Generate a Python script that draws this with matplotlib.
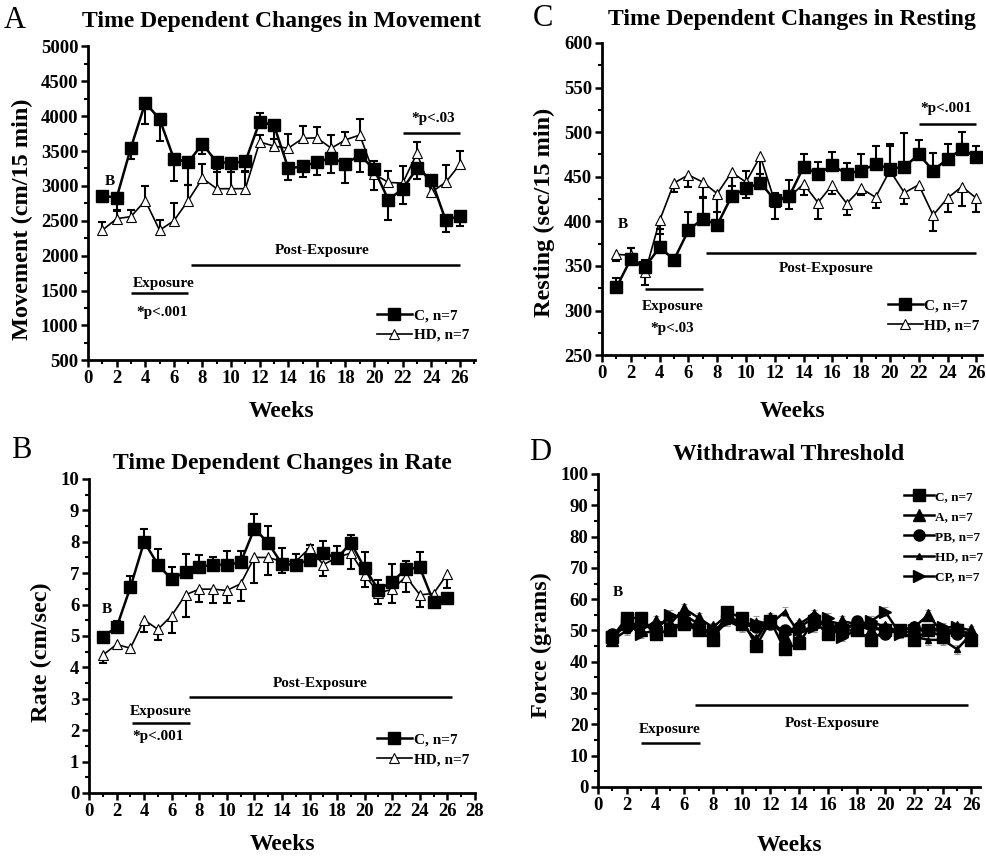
import numpy as np
import matplotlib.pyplot as plt
from matplotlib.ticker import MultipleLocator

plt.rcParams['font.family'] = ['Liberation Serif', 'DejaVu Serif']
plt.rcParams['font.weight'] = 'bold'
plt.rcParams['axes.labelweight'] = 'bold'

weeks = np.arange(1, 27)

# --- A: movement (cm/15 min); err > 0 means bar drawn upward, < 0 downward
move_c = [2860, 2830, 3550, 4190, 3960, 3390, 3340, 3600, 3340, 3330, 3350, 3920, 3870,
          3250, 3280, 3340, 3400, 3320, 3440, 3240, 2800, 2960, 3250, 3090, 2510, 2570]
move_c_err = [-90, -180, -170, -310, -310, -320, -320, -150, -140, -130, -150, 130, -330,
              -170, -150, -190, -210, -280, -240, -300, -290, -220, -150, -230, -170, -150]
move_hd = [2365, 2530, 2560, 2790, 2365, 2500, 2790, 3110, 2960, 2960, 2960, 3630, 3570,
           3540, 3680, 3690, 3540, 3660, 3730, 3170, 3050, 3040, 3470, 2910, 3050, 3310]
move_hd_err = [120, 110, 100, 210, 150, 250, 220, 210, 280, 280, 250, 100, 100,
               210, 180, 150, 190, 110, 230, 180, 170, 240, 160, 100, 250, 190]

# --- B: rate (cm/sec)
rate_c = [4.98, 5.27, 6.55, 8.0, 7.27, 6.8, 7.05, 7.2, 7.27, 7.27, 7.34, 8.42, 7.96,
          7.29, 7.27, 7.43, 7.64, 7.48, 7.96, 7.16, 6.47, 6.73, 7.13, 7.18, 6.08, 6.2]
rate_c_err = [0.1, 0.22, 0.35, 0.42, 0.5, 0.4, 0.55, 0.38, 0.25, 0.45, 0.38, 0.45, 0.55,
              0.5, 0.35, 0.35, 0.38, 0.38, 0.25, 0.5, 0.3, 0.55, 0.25, 0.5, -0.1, 0.1]
rate_hd = [4.39, 4.73, 4.61, 5.51, 5.21, 5.65, 6.31, 6.49, 6.49, 6.45, 6.66, 7.5, 7.5,
           7.37, 7.37, 7.8, 7.27, 7.5, 7.64, 6.95, 6.36, 6.49, 6.89, 6.31, 6.35, 6.98]
rate_hd_err = [-0.25, -0.15, -0.15, -0.4, -0.35, -0.55, -0.7, -0.4, -0.45, -0.4, -0.55, -0.8, -0.55,
               -0.35, -0.2, 0.1, -0.35, -0.1, -0.5, -0.4, -0.35, -0.45, -0.5, -0.4, -0.1, -0.45]

# --- C: resting (sec/15 min)
rest_c = [326, 358, 349, 371, 357, 390, 403, 396, 428, 437, 443, 424, 428,
          461, 453, 463, 453, 457, 464, 459, 461, 475, 457, 470, 481, 472]
rest_c_err = [10, 12, 8, 20, 5, 20, 24, 32, 22, 20, 10, 8, 18,
              15, 14, 15, 12, 19, 20, 28, 38, 16, 20, 17, 19, 13]
rest_hd = [363, 362, 343, 401, 443, 452, 444, 431, 455, 444, 473, 422, 427,
           442, 421, 441, 420, 437, 427, 457, 432, 441, 407, 426, 439, 426]
rest_hd_err = [-7, 8, -14, -15, -10, -13, -18, -20, -15, -18, -20, -19, -13,
               -12, -18, -10, -13, -8, -12, 28, -12, -5, -18, -15, -22, -16]

# --- D: withdrawal threshold (grams)
d_groups = ['C, n=7', 'A, n=7', 'PB, n=7', 'HD, n=7', 'CP, n=7']
force_c = [48, 54, 54, 49, 50, 52, 50, 47, 56, 54, 45, 53, 44,
           46, 53, 49, 50, 50, 47, 50, 50, 47, 50, 48, 50, 47]
force_a = [47, 53, 50, 53, 52, 57, 54, 51, 55, 52, 47, 54, 48,
           52, 55, 50, 53, 52, 50, 51, 50, 51, 55, 49, 51, 50]
force_pb = [49, 51, 53, 49, 50, 53, 50, 49, 54, 52, 51, 52, 50,
            51, 54, 51, 49, 53, 52, 49, 50, 51, 50, 50, 49, 48]
force_hd = [47, 50, 52, 51, 54, 55, 52, 48, 53, 51, 53, 52, 56,
            49, 51, 53, 52, 51, 53, 51, 49, 48, 47, 47, 44, 49]
force_cp = [48, 52, 49, 50, 55, 54, 50, 50, 53, 52, 52, 52, 49,
            50, 51, 54, 48, 50, 53, 56, 49, 50, 50, 51, 51, 48]
force_sem = [1.5, 1.5, 1.5, 1.5, 1.5]

exposure_wk = (3, 7)
post_wk = (7.2, 26)
late_wk = (22, 26)


def one_sided_bars(ax, x, y, err, color='k'):
    x = np.asarray(x, float)
    y = np.asarray(y, float)
    err = np.asarray(err, float)
    ax.vlines(x, y, y + err, color=color, lw=1.5, zorder=2)
    ax.plot(x, y + err, ls='none', marker='_', ms=6, mew=1.5, color=color, zorder=2)


def style_axes(ax, xmax, ymin, ymax, ymajor, yminor, xmajor=2, xpad=10):
    ax.set_xlim(0, xmax)
    ax.set_ylim(ymin, ymax)
    ax.xaxis.set_major_locator(MultipleLocator(xmajor))
    ax.xaxis.set_minor_locator(MultipleLocator(1))
    ax.yaxis.set_major_locator(MultipleLocator(ymajor))
    ax.yaxis.set_minor_locator(MultipleLocator(yminor))
    for s in ['top', 'right']:
        ax.spines[s].set_visible(False)
    for s in ['left', 'bottom']:
        ax.spines[s].set_linewidth(2)
    ax.tick_params(which='major', direction='out', length=5, width=1.8, labelsize=13.5,
                   pad=2)
    ax.tick_params(which='minor', direction='out', length=3, width=1.5)
    ax.set_xlabel('Weeks', fontsize=17, labelpad=xpad)


def two_group(ax, c, c_err, hd, hd_err):
    one_sided_bars(ax, weeks, c, c_err)
    one_sided_bars(ax, weeks, hd, hd_err)
    ax.plot(weeks, hd, '-', color='k', lw=1.2, marker='^', ms=7, mfc='white',
            mec='k', mew=0.8, label='HD, n=7', zorder=3)
    ax.plot(weeks, c, '-', color='k', lw=1.8, marker='s', ms=9, mfc='k',
            mec='k', label='C, n=7', zorder=4)
    h, l = ax.get_legend_handles_labels()
    return [h[1], h[0]], [l[1], l[0]]


fig = plt.figure(figsize=(9.87, 8.58), dpi=100)
axA = fig.add_axes([0.0892, 0.580, 0.392, 0.366])
axC = fig.add_axes([0.610, 0.586, 0.385, 0.364])
axB = fig.add_axes([0.0902, 0.0758, 0.391, 0.366])
axD = fig.add_axes([0.606, 0.0828, 0.387, 0.3648])

# A
h, l = two_group(axA, move_c, move_c_err, move_hd, move_hd_err)
style_axes(axA, 27.05, 500, 5000, 500, 250)
axA.set_ylabel('Movement (cm/15 min)', fontsize=17.5)
axA.yaxis.set_label_coords(-0.142, 0.45)
axA.set_title('Time Dependent Changes in Movement', fontsize=17, fontweight='bold', pad=14)
axA.legend(h, l, loc='lower right', bbox_to_anchor=(1.02, 0.015), frameon=False,
           fontsize=11, handlelength=2.3, handletextpad=0.1, labelspacing=0.4)
axA.text(1.5, 3060, 'B', fontsize=11, ha='center', va='center')
axA.hlines(1860, *post_wk, color='k', lw=1.8)
axA.text(16.4, 2080, 'Post-Exposure', fontsize=11, ha='center', va='center')
axA.hlines(1460, *exposure_wk, color='k', lw=1.8)
axA.text(5.3, 1600, 'Exposure', fontsize=11, ha='center', va='center')
axA.text(5.2, 1190, '*p<.001', fontsize=11, ha='center', va='center')
axA.hlines(3760, *late_wk, color='k', lw=1.8)
axA.text(24.1, 3970, '*p<.03', fontsize=11, ha='center', va='center')

# C
h, l = two_group(axC, rest_c, rest_c_err, rest_hd, rest_hd_err)
style_axes(axC, 26.4, 250, 600, 50, 25, xpad=14)
axC.set_ylabel('Resting (sec/15 min)', fontsize=17.5)
axC.yaxis.set_label_coords(-0.124, 0.458)
axC.set_title('Time Dependent Changes in Resting', fontsize=17, fontweight='bold', pad=13)
axC.legend(h, l, loc='lower right', bbox_to_anchor=(1.03, 0.03), frameon=False,
           fontsize=11, handlelength=2.3, handletextpad=0.1, labelspacing=0.4)
axC.text(1.46, 397, 'B', fontsize=11, ha='center', va='center')
axC.hlines(364.6, *post_wk, color='k', lw=1.8)
axC.text(15.6, 347, 'Post-Exposure', fontsize=11, ha='center', va='center')
axC.hlines(324, *exposure_wk, color='k', lw=1.8)
axC.text(4.9, 305, 'Exposure', fontsize=11, ha='center', va='center')
axC.text(4.9, 280, '*p<.03', fontsize=11, ha='center', va='center')
axC.hlines(509, *late_wk, color='k', lw=1.8)
axC.text(23.9, 526, '*p<.001', fontsize=11, ha='center', va='center')

# B
h, l = two_group(axB, rate_c, rate_c_err, rate_hd, rate_hd_err)
style_axes(axB, 28, 0, 10, 1, 0.5)
axB.set_ylabel('Rate (cm/sec)', fontsize=17.5)
axB.yaxis.set_label_coords(-0.096, 0.449)
axB.set_title('Time Dependent Changes in Rate', fontsize=17, fontweight='bold', pad=7)
axB.legend(h, l, loc='lower right', bbox_to_anchor=(1.02, 0.04), frameon=False,
           fontsize=11, handlelength=2.3, handletextpad=0.1, labelspacing=0.4)
axB.text(1.3, 5.85, 'B', fontsize=11, ha='center', va='center')
axB.hlines(3.07, 7.25, 26.3, color='k', lw=1.8)
axB.text(16.8, 3.5, 'Post-Exposure', fontsize=11, ha='center', va='center')
axB.hlines(2.23, 3.1, 7.3, color='k', lw=1.8)
axB.text(5.2, 2.6, 'Exposure', fontsize=11, ha='center', va='center')
axB.text(5.0, 1.8, '*p<.001', fontsize=11, ha='center', va='center')

# D
style_axes(axD, 26.6, 0, 100, 10, 5, xpad=15)
markers = ['s', '^', 'o', '^', '>']
sizes = [8, 8, 8, 5, 8]
series = [force_c, force_a, force_pb, force_hd, force_cp]
for vals, name, m, ms, sem in zip(series, d_groups, markers, sizes, force_sem):
    axD.errorbar(weeks, vals, yerr=sem, fmt='none', ecolor='0.6', elinewidth=0.8,
                 capsize=2, capthick=0.8, zorder=1)
    axD.plot(weeks, vals, '-', color='k', lw=1.8, marker=m, ms=ms, label=name, zorder=3)
axD.set_ylabel('Force (grams)', fontsize=17.5)
axD.yaxis.set_label_coords(-0.12, 0.454)
axD.set_title('Withdrawal Threshold', fontsize=17, fontweight='bold', pad=10)
axD.legend(loc='upper right', bbox_to_anchor=(1.04, 0.985), frameon=False,
           fontsize=9.5, handlelength=2.3, handletextpad=0.1, labelspacing=0.6)
axD.text(1.4, 62, 'B', fontsize=11, ha='center', va='center')
axD.hlines(26.3, 6.76, 25.76, color='k', lw=1.8)
axD.text(16.3, 20.4, 'Post-Exposure', fontsize=11, ha='center', va='center')
axD.hlines(14.1, 3.0, 7.06, color='k', lw=1.8)
axD.text(5.0, 18.3, 'Exposure', fontsize=11, ha='center', va='center')

# panel letters
for letter, x, y in [('A', 15, 20), ('C', 543, 18), ('B', 21, 450), ('D', 540, 452)]:
    fig.text(x / 987, 1 - y / 858, letter, fontsize=22, fontweight='normal',
             ha='center', va='center')

fig.savefig('out.png', dpi=100)
